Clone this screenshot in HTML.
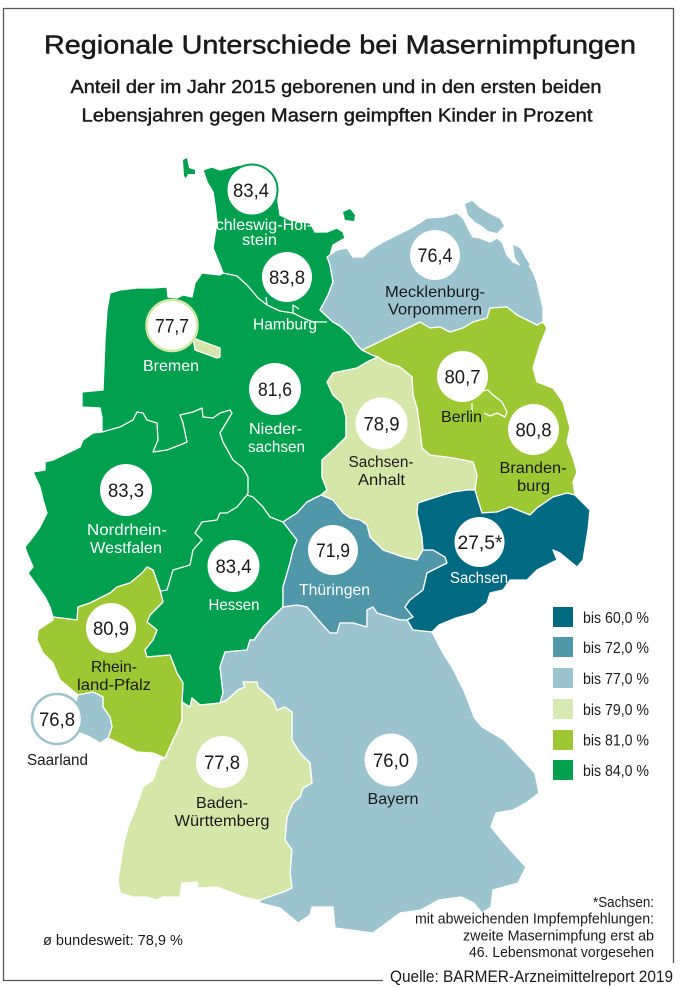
<!DOCTYPE html>
<html><head><meta charset="utf-8"><style>
html,body{margin:0;padding:0;background:#fff;}
svg{display:block;}
text{font-family:"Liberation Sans Narrow","Liberation Sans",sans-serif;}
</style></head><body>
<svg width="681" height="988" viewBox="0 0 681 988" xmlns="http://www.w3.org/2000/svg">
<rect width="681" height="988" fill="#fff"/>
<path d="M383,980.5 H3.5 V8.5 H673.5 V963" fill="none" stroke="#555" stroke-width="1.3"/>

<text x="340" y="53.5" font-size="26" fill="#1a1a1a" stroke="#1a1a1a" stroke-width="0.5" text-anchor="middle" textLength="592" lengthAdjust="spacingAndGlyphs">Regionale Unterschiede bei Masernimpfungen</text>
<text x="336" y="93" font-size="18.5" fill="#1a1a1a" stroke="#1a1a1a" stroke-width="0.45" text-anchor="middle" textLength="531" lengthAdjust="spacingAndGlyphs">Anteil der im Jahr 2015 geborenen und in den ersten beiden</text>
<text x="337" y="121.5" font-size="18.5" fill="#1a1a1a" stroke="#1a1a1a" stroke-width="0.45" text-anchor="middle" textLength="511" lengthAdjust="spacingAndGlyphs">Lebensjahren gegen Masern geimpften Kinder in Prozent</text>

<g stroke="#fff" stroke-width="1.3" stroke-linejoin="round">
<polygon fill="#00A04F" points="203,170 212,167 220,170 240,165 265,168 276,178 278,190 278,202 280,215 290,220 303,222 310,223 315,232 327,232 337,228 343,232 345,238 333,245 330,255 330,265 333,282 328,295 320,310 333,322 340,326 350,335 357,345 362,350 372,355 378,357 367,362 357,368 333,373 327,382 333,395 342,403 346,417 346,437 333,450 322,460 322,477 327,490 321,495 307,502 297,513 283,522 297,540 293,550 290,563 283,587 283,607 270,620 263,627 254,640 250,640 247,650 225,652 220,667 223,693 220,703 200,705 192,698 190,707 182,702 183,683 177,673 170,655 147,657 145,650 153,640 157,630 147,622 150,615 163,602 160,590 153,570 147,567 142,573 130,583 117,587 110,593 90,603 78,607 77,620 53,617 50,607 45,597 38,587 28,573 33,567 27,553 25,547 33,537 40,527 47,513 43,500 40,487 33,472 45,470 45,462 53,460 80,447 83,440 93,433 102,432 102,417 100,408 82,407 82,392 103,390 105,340 107,310 110,293 120,290 137,288 153,288 167,287 168,297 177,298 183,295 192,297 195,283 202,273 220,275 223,273 220,265 213,248 215,235 217,222 215,205 213,192 207,182"/>
<polygon fill="#00A04F" stroke="none" points="183,160 187,158 189,168 195,170 195,174 188,174 186,178 184,176"/>
<polygon fill="#00A04F" stroke="none" points="343,212 350,209 355,215 354,221 345,220"/>
<polygon fill="#9DC833" points="147,567 153,570 160,590 163,602 150,615 147,622 157,630 153,640 145,650 147,657 170,655 177,673 183,683 182,702 182,720 177,732 173,740 165,758 153,753 137,752 123,745 108,738 112,727 110,717 103,707 103,697 93,692 78,695 60,680 53,663 43,653 37,640 38,630 53,620 53,617 77,620 78,607 90,603 110,593 117,587 130,583 142,573"/>
<polygon fill="#9BC4CE" points="78,695 93,692 103,697 103,707 110,717 112,727 108,738 100,743 90,737 80,733 70,720"/>
<polygon fill="#9BC4CE" points="327,257 337,250 347,248 353,257 363,257 370,250 383,242 397,235 413,227 427,218 443,217 457,213 463,218 468,228 473,237 480,238 490,242 497,238 502,242 507,255 513,262 520,265 527,262 533,272 537,282 540,295 543,308 543,322 537,325 517,315 507,307 490,308 487,318 473,322 463,328 450,332 440,327 430,328 420,322 410,327 387,338 373,345 362,350 357,345 350,335 340,326 333,322 320,310 328,295 333,282 330,265"/>
<polygon fill="#9BC4CE" stroke="none" points="465,204 472,201 480,208 490,214 500,219 504,226 497,233 488,231 482,226 475,222 468,215"/>
<polygon fill="#9BC4CE" stroke="none" points="513,245 520,248 525,257 530,265 522,268 515,258"/>
<polygon fill="#9DC833" points="362,350 373,345 387,338 410,327 420,322 430,328 440,327 450,332 463,328 473,322 487,318 490,308 507,307 517,315 537,325 543,322 547,328 540,345 533,368 537,382 553,388 563,402 570,428 567,442 573,458 577,472 573,482 575,495 567,493 553,497 537,508 530,515 510,507 497,512 482,513 477,497 475,490 477,475 473,462 453,458 430,455 422,448 420,430 417,408 413,395 412,377 400,367 387,363 378,357 372,355"/>
<polygon fill="#D5E7A8" points="378,357 387,363 400,367 412,377 413,395 417,408 420,430 422,448 430,455 453,458 473,462 477,475 475,490 467,490 453,492 443,495 427,500 418,503 417,513 422,537 423,550 417,560 403,557 383,550 370,537 367,525 360,520 350,518 343,513 333,500 321,495 327,490 322,477 322,460 333,450 346,437 346,417 342,403 333,395 327,382 333,373 357,368 367,362"/>
<polygon fill="#4F97A9" points="283,522 297,513 307,502 321,495 333,500 343,513 350,518 360,520 367,525 370,537 383,550 403,557 417,560 423,550 433,550 445,557 447,563 433,570 427,573 423,590 410,600 405,607 413,617 407,620 400,620 377,613 373,607 367,610 367,627 353,623 340,623 337,633 330,633 320,622 307,607 297,605 283,607 283,587 290,563 293,550 297,540"/>
<polygon fill="#006A83" points="418,503 427,500 443,495 453,492 467,490 475,490 477,497 482,513 497,512 510,507 530,515 537,508 553,497 567,493 575,495 583,503 590,510 588,530 583,560 577,567 560,553 553,550 557,560 543,567 537,570 527,580 510,580 503,590 490,593 487,603 474,613 456,618 439,625 432,632 413,630 407,620 413,617 405,607 410,600 423,590 427,573 433,570 447,563 445,557 433,550 423,550 422,537 417,513"/>
<polygon fill="#9BC4CE" points="283,607 297,605 307,607 320,622 330,633 337,633 340,623 353,623 367,627 367,610 373,607 377,613 400,620 407,620 413,630 432,632 443,653 452,667 465,693 474,717 482,727 504,740 520,757 535,773 539,793 526,803 513,810 496,813 491,827 504,843 513,853 526,867 518,883 493,890 491,907 482,913 474,903 461,897 439,900 421,910 400,913 373,933 335,928 333,907 312,907 310,915 298,923 280,908 260,903 260,900 283,892 292,888 290,873 292,850 285,840 287,817 293,803 300,797 303,788 312,783 310,763 300,753 292,740 292,712 285,707 277,710 273,700 258,687 257,682 243,682 245,687 238,690 227,700 220,703 223,693 220,667 225,652 247,650 250,640 254,640 263,627 270,620"/>
<polygon fill="#D5E7A8" points="182,702 190,707 192,698 200,705 220,703 227,700 238,690 245,687 243,682 257,682 258,687 273,700 277,710 285,707 292,712 292,740 300,753 310,763 312,783 303,788 300,797 293,803 287,817 285,840 292,850 290,873 292,888 283,892 260,900 257,900 243,897 217,887 198,888 197,882 182,883 180,897 163,897 157,900 147,897 133,897 120,893 118,880 120,867 123,847 128,827 135,810 143,787 153,780 160,760 165,758 173,740 177,732 182,720"/>
<polygon fill="#D5E7A8" points="193,338 220,348 220,357 217,358 195,350"/>
</g>

<g fill="none" stroke="#fff" stroke-width="1.3" stroke-linejoin="round">
<polyline points="223,273 237,276 248,286 258,298 267,305 280,311 293,313 303,318 313,322 327,322"/>
<polyline points="267,305 266,297"/>
<polyline points="293,313 293,305 299,309"/>
<polyline points="102,432 120,427 133,420 137,412 143,413 147,420 157,423 158,440 153,452 167,450 180,445 187,442 183,423 180,415 193,412 202,408 203,417 213,418 220,413 230,410 232,413 220,433 223,442 233,460 243,468 248,477 248,493 247,495"/>
<polyline points="247,495 253,497 263,507 270,517 283,522"/>
<polyline points="247,495 237,507 227,513 220,513 217,520 202,522 195,533 202,540 193,550 190,565 173,570 167,590 161,591"/>
<polyline points="472,403 472,412"/>
<polyline points="477,392 488,390 493,395 502,402 507,412 505,417 497,413 490,416 484,413"/>
</g>

<g fill="#fff">
<circle cx="252" cy="190" r="25.5" stroke="#00A04F" stroke-width="2"/>
<circle cx="287" cy="277" r="25"/>
<circle cx="172" cy="325.5" r="25.5" stroke="#D5E7A8" stroke-width="2.5"/>
<circle cx="275" cy="389" r="26"/>
<circle cx="126" cy="490" r="26"/>
<circle cx="233.5" cy="566" r="26"/>
<circle cx="111" cy="628" r="25"/>
<circle cx="57" cy="719" r="25" stroke="#9BC4CE" stroke-width="2.5"/>
<circle cx="222" cy="762" r="26"/>
<circle cx="391" cy="760" r="26.5"/>
<circle cx="333" cy="550" r="25"/>
<circle cx="479.5" cy="542" r="25"/>
<circle cx="381.5" cy="423.5" r="26"/>
<circle cx="462.5" cy="376.5" r="25.5"/>
<circle cx="533.5" cy="429.5" r="25.5"/>
<circle cx="435" cy="255" r="25"/>
</g>

<g font-size="19" fill="#1a1a1a" text-anchor="middle">
<text x="251" y="197" textLength="36" lengthAdjust="spacingAndGlyphs">83,4</text>
<text x="287" y="284" textLength="36" lengthAdjust="spacingAndGlyphs">83,8</text>
<text x="172" y="332.5" textLength="34" lengthAdjust="spacingAndGlyphs">77,7</text>
<text x="275" y="396" textLength="34" lengthAdjust="spacingAndGlyphs">81,6</text>
<text x="126" y="497" textLength="36" lengthAdjust="spacingAndGlyphs">83,3</text>
<text x="233.5" y="573" textLength="36" lengthAdjust="spacingAndGlyphs">83,4</text>
<text x="111" y="635" textLength="36" lengthAdjust="spacingAndGlyphs">80,9</text>
<text x="57" y="726" textLength="36" lengthAdjust="spacingAndGlyphs">76,8</text>
<text x="222" y="769" textLength="36" lengthAdjust="spacingAndGlyphs">77,8</text>
<text x="391" y="767" textLength="36" lengthAdjust="spacingAndGlyphs">76,0</text>
<text x="333" y="557" textLength="34" lengthAdjust="spacingAndGlyphs">71,9</text>
<text x="480" y="549" textLength="45" lengthAdjust="spacingAndGlyphs">27,5*</text>
<text x="381.5" y="430.5" textLength="36" lengthAdjust="spacingAndGlyphs">78,9</text>
<text x="462.5" y="383.5" textLength="36" lengthAdjust="spacingAndGlyphs">80,7</text>
<text x="533.5" y="436.5" textLength="36" lengthAdjust="spacingAndGlyphs">80,8</text>
<text x="435" y="262" textLength="35" lengthAdjust="spacingAndGlyphs">76,4</text>
</g>

<g font-size="16" text-anchor="middle">
<text x="258.5" y="230" fill="#fff" textLength="107" lengthAdjust="spacingAndGlyphs">Schleswig-Hol-</text>
<text x="259.5" y="245" fill="#fff" textLength="35" lengthAdjust="spacingAndGlyphs">stein</text>
<text x="285" y="329.5" fill="#fff" textLength="64" lengthAdjust="spacingAndGlyphs">Hamburg</text>
<text x="171" y="371" fill="#fff" textLength="56" lengthAdjust="spacingAndGlyphs">Bremen</text>
<text x="275.5" y="434" fill="#fff" textLength="53" lengthAdjust="spacingAndGlyphs">Nieder-</text>
<text x="276.5" y="452" fill="#fff" textLength="57" lengthAdjust="spacingAndGlyphs">sachsen</text>
<text x="127" y="535" fill="#fff" textLength="80" lengthAdjust="spacingAndGlyphs">Nordrhein-</text>
<text x="126" y="553" fill="#fff" textLength="72" lengthAdjust="spacingAndGlyphs">Westfalen</text>
<text x="234" y="610" fill="#fff" textLength="51" lengthAdjust="spacingAndGlyphs">Hessen</text>
<text x="114" y="672" fill="#1a1a1a" textLength="46" lengthAdjust="spacingAndGlyphs">Rhein-</text>
<text x="114" y="690" fill="#1a1a1a" textLength="74" lengthAdjust="spacingAndGlyphs">land-Pfalz</text>
<text x="57.5" y="765" fill="#1a1a1a" textLength="61" lengthAdjust="spacingAndGlyphs">Saarland</text>
<text x="222" y="808" fill="#1a1a1a" textLength="52" lengthAdjust="spacingAndGlyphs">Baden-</text>
<text x="222" y="826" fill="#1a1a1a" textLength="95" lengthAdjust="spacingAndGlyphs">Württemberg</text>
<text x="393" y="804" fill="#1a1a1a" textLength="51" lengthAdjust="spacingAndGlyphs">Bayern</text>
<text x="334.5" y="595" fill="#fff" textLength="71" lengthAdjust="spacingAndGlyphs">Thüringen</text>
<text x="479" y="583" fill="#fff" textLength="58" lengthAdjust="spacingAndGlyphs">Sachsen</text>
<text x="381" y="467" fill="#1a1a1a" textLength="65" lengthAdjust="spacingAndGlyphs">Sachsen-</text>
<text x="381.5" y="485" fill="#1a1a1a" textLength="47" lengthAdjust="spacingAndGlyphs">Anhalt</text>
<text x="461.5" y="422" fill="#1a1a1a" textLength="41" lengthAdjust="spacingAndGlyphs">Berlin</text>
<text x="533" y="473" fill="#1a1a1a" textLength="67" lengthAdjust="spacingAndGlyphs">Branden-</text>
<text x="533.5" y="491" fill="#1a1a1a" textLength="33" lengthAdjust="spacingAndGlyphs">burg</text>
<text x="435" y="297" fill="#1a1a1a" textLength="100" lengthAdjust="spacingAndGlyphs">Mecklenburg-</text>
<text x="435" y="314.5" fill="#1a1a1a" textLength="94" lengthAdjust="spacingAndGlyphs">Vorpommern</text>
</g>

<g>
<rect x="553" y="607" width="20" height="20" fill="#006A83"/>
<rect x="553" y="637" width="20" height="20" fill="#4F97A9"/>
<rect x="553" y="668" width="20" height="20" fill="#9BC4CE"/>
<rect x="553" y="699" width="20" height="20" fill="#D8EAB3"/>
<rect x="553" y="730" width="20" height="20" fill="#9DC833"/>
<rect x="553" y="760" width="20" height="20" fill="#00A04F"/>
</g>
<g font-size="16" fill="#1a1a1a">
<text x="583" y="623" textLength="66" lengthAdjust="spacingAndGlyphs">bis 60,0 %</text>
<text x="583" y="653" textLength="66" lengthAdjust="spacingAndGlyphs">bis 72,0 %</text>
<text x="583" y="684" textLength="66" lengthAdjust="spacingAndGlyphs">bis 77,0 %</text>
<text x="583" y="715" textLength="66" lengthAdjust="spacingAndGlyphs">bis 79,0 %</text>
<text x="583" y="745.5" textLength="66" lengthAdjust="spacingAndGlyphs">bis 81,0 %</text>
<text x="583" y="776" textLength="66" lengthAdjust="spacingAndGlyphs">bis 84,0 %</text>
</g>

<g font-size="14.5" fill="#1a1a1a" text-anchor="end">
<text x="654" y="907" textLength="61" lengthAdjust="spacingAndGlyphs">*Sachsen:</text>
<text x="654" y="923.5" textLength="239" lengthAdjust="spacingAndGlyphs">mit abweichenden Impfempfehlungen:</text>
<text x="654" y="940.5" textLength="191" lengthAdjust="spacingAndGlyphs">zweite Masernimpfung erst ab</text>
<text x="654" y="957" textLength="185" lengthAdjust="spacingAndGlyphs">46. Lebensmonat vorgesehen</text>
</g>
<text x="43" y="945" font-size="15" fill="#1a1a1a" textLength="140" lengthAdjust="spacingAndGlyphs">ø bundesweit: 78,9 %</text>
<text x="390" y="982" font-size="17" fill="#1a1a1a" textLength="283" lengthAdjust="spacingAndGlyphs">Quelle: BARMER-Arzneimittelreport 2019</text>
</svg>
</body></html>
